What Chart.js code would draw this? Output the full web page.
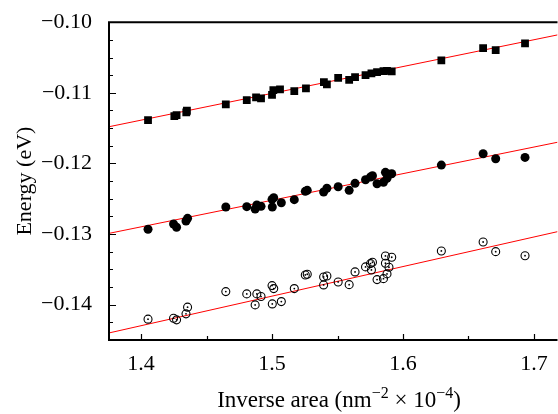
<!DOCTYPE html>
<html>
<head>
<meta charset="utf-8">
<script src="https://cdn.jsdelivr.net/npm/chart.js@4/dist/chart.umd.min.js"></script>
<style>
  html, body { margin: 0; background: #fff; overflow: hidden; }
  #wrap { width: 563px; height: 414px; position: relative; }
</style>
</head>
<body>
<div id="wrap"><canvas id="myChart"></canvas></div>
<script>
// data
const xSquare = [1.4053, 1.4254, 1.4271, 1.4345, 1.4350, 1.4647, 1.4807, 1.4878, 1.4916, 1.5000, 1.5010, 1.5061, 1.5170, 1.5259, 1.5396, 1.5419, 1.5505, 1.5589, 1.5634, 1.5714, 1.5759, 1.5802, 1.5851, 1.5878, 1.5914, 1.6293, 1.6612, 1.6708, 1.6932];
const ySquare = [-0.11386, -0.11330, -0.11315, -0.11277, -0.11254, -0.11164, -0.11103, -0.11065, -0.11079, -0.11028, -0.10962, -0.10952, -0.10976, -0.10938, -0.10849, -0.10881, -0.10788, -0.10816, -0.10778, -0.10750, -0.10726, -0.10707, -0.10693, -0.10689, -0.10697, -0.10542, -0.10368, -0.10396, -0.10300];

const xFilled = [1.4053, 1.4248, 1.4271, 1.4343, 1.4355, 1.4647, 1.4807, 1.4871, 1.4884, 1.4916, 1.5000, 1.5013, 1.5002, 1.5071, 1.5170, 1.5254, 1.5269, 1.5394, 1.5419, 1.5505, 1.5589, 1.5634, 1.5714, 1.5752, 1.5767, 1.5802, 1.5851, 1.5866, 1.5878, 1.5893, 1.5914, 1.6293, 1.6612, 1.6708, 1.6932];
const yFilled = [-0.12932, -0.12857, -0.12904, -0.12815, -0.12777, -0.12617, -0.12612, -0.12645, -0.12588, -0.12607, -0.12508, -0.12485, -0.12617, -0.12556, -0.12513, -0.12395, -0.12381, -0.12405, -0.12352, -0.12330, -0.12381, -0.12282, -0.12231, -0.12192, -0.12174, -0.12287, -0.12267, -0.12126, -0.12211, -0.12154, -0.12146, -0.12023, -0.11863, -0.11934, -0.11915];

const xOpen = [1.4053, 1.4248, 1.4271, 1.4343, 1.4355, 1.4647, 1.4807, 1.4871, 1.4884, 1.4916, 1.5000, 1.5013, 1.5002, 1.5071, 1.5170, 1.5254, 1.5269, 1.5394, 1.5394, 1.5419, 1.5505, 1.5589, 1.5634, 1.5714, 1.5752, 1.5767, 1.5759, 1.5802, 1.5851, 1.5866, 1.5866, 1.5878, 1.5893, 1.5914, 1.6293, 1.6612, 1.6708, 1.6932];
const yOpen = [-0.14205, -0.14191, -0.14215, -0.14130, -0.14035, -0.13815, -0.13847, -0.14003, -0.13847, -0.13885, -0.13730, -0.13772, -0.13989, -0.13956, -0.13772, -0.13579, -0.13569, -0.13607, -0.13720, -0.13593, -0.13678, -0.13716, -0.13536, -0.13465, -0.13419, -0.13399, -0.13508, -0.13645, -0.13631, -0.13310, -0.13413, -0.13564, -0.13470, -0.13328, -0.13239, -0.13112, -0.13249, -0.13306];

// fitted lines, end points at the axis edges
const fitX = [1.3755, 1.718];
const fitTop = [-0.1148, -0.1018];
const fitMid = [-0.1299, -0.1170];
const fitLow = [-0.1440, -0.12966];

const xTicks = [1.4, 1.5, 1.6, 1.7];
const xMinor = [1.45, 1.55, 1.65];
const yTicks = [-0.14, -0.13, -0.12, -0.11, -0.10];
const yMinor = [-0.1425, -0.1375, -0.135, -0.1325, -0.1275, -0.125, -0.1225, -0.1175, -0.115, -0.1125, -0.1075, -0.105, -0.1025];

const FONT = "'Liberation Serif', 'Times New Roman', serif";

function pts(xs, ys) {
  return xs.map(function (x, i) { return { x: x, y: ys[i] }; });
}

// small dot in the middle of the open circles
const dotPlugin = {
  id: "dots",
  afterDatasetsDraw: function (chart) {
    const c = chart.ctx;
    const meta = chart.getDatasetMeta(5);
    c.save();
    c.fillStyle = "#000";
    meta.data.forEach(function (el) {
      c.beginPath();
      c.arc(el.x, el.y, 0.9, 0, Math.PI * 2);
      c.fill();
    });
    c.restore();
  }
};

const framePlugin = {
  id: "frame",
  afterDraw: function (chart) {
    const c = chart.ctx;
    const a = chart.chartArea;
    const xs = chart.scales.x;
    const ys = chart.scales.y;
    c.save();
    c.strokeStyle = "#000";
    c.lineWidth = 2;
    c.beginPath();
    c.moveTo(a.left, a.top);
    c.lineTo(a.right, a.top);
    c.moveTo(a.left, a.top - 1);
    c.lineTo(a.left, a.bottom + 1);
    c.moveTo(a.left, a.bottom);
    c.lineTo(a.right, a.bottom);
    c.stroke();

    c.lineWidth = 1.2;
    c.beginPath();
    xTicks.forEach(function (v) {
      const px = Math.round(xs.getPixelForValue(v)) + 0.5;
      c.moveTo(px, a.bottom);
      c.lineTo(px, a.bottom - 6);
    });
    xMinor.forEach(function (v) {
      const px = Math.round(xs.getPixelForValue(v)) + 0.5;
      c.moveTo(px, a.bottom);
      c.lineTo(px, a.bottom - 4);
    });
    yTicks.forEach(function (v) {
      const py = Math.round(ys.getPixelForValue(v)) + 0.5;
      c.moveTo(a.left, py);
      c.lineTo(a.left + 7, py);
    });
    yMinor.forEach(function (v) {
      const py = Math.round(ys.getPixelForValue(v)) + 0.5;
      c.moveTo(a.left, py);
      c.lineTo(a.left + 4, py);
    });
    c.stroke();

    // x axis title with superscripts
    const big = "23px " + FONT;
    const small = "16px " + FONT;
    const parts = [
      { t: "Inverse area (nm", f: big, dy: 0 },
      { t: "\u22122", f: small, dy: -9 },
      { t: " \u00d7 10", f: big, dy: 0 },
      { t: "\u22124", f: small, dy: -9 },
      { t: ")", f: big, dy: 0 }
    ];
    let w = 0;
    parts.forEach(function (p) { c.font = p.f; w += c.measureText(p.t).width; });
    let x = a.left + 230 - w / 2;
    const base = 407;
    c.fillStyle = "#000";
    c.textBaseline = "alphabetic";
    c.textAlign = "left";
    parts.forEach(function (p) {
      c.font = p.f;
      c.fillText(p.t, x, base + p.dy);
      x += c.measureText(p.t).width;
    });
    c.restore();
  }
};

new Chart(document.getElementById("myChart"), {
  type: "scatter",
  data: {
    datasets: [
      { data: pts(fitX, fitTop), showLine: true, borderColor: "rgb(255,0,0)", borderWidth: 1, pointRadius: 0, order: 10 },
      { data: pts(fitX, fitMid), showLine: true, borderColor: "rgb(255,0,0)", borderWidth: 1, pointRadius: 0, order: 10 },
      { data: pts(fitX, fitLow), showLine: true, borderColor: "rgb(255,0,0)", borderWidth: 1, pointRadius: 0, order: 10 },
      { data: pts(xSquare, ySquare), pointStyle: "rect", pointRadius: 5.5, backgroundColor: "#000", borderColor: "#000", borderWidth: 0, order: 1 },
      { data: pts(xFilled, yFilled), pointStyle: "circle", pointRadius: 4.5, backgroundColor: "#000", borderColor: "#000", borderWidth: 0, order: 1 },
      { data: pts(xOpen, yOpen), pointStyle: "circle", pointRadius: 4, backgroundColor: "rgba(255,255,255,0)", borderColor: "#000", borderWidth: 1.1, order: 1 }
    ]
  },
  options: {
    responsive: true,
    maintainAspectRatio: false,
    devicePixelRatio: 1,
    animation: false,
    layout: { padding: { top: 22, right: 0, left: 0, bottom: 0 } },
    plugins: {
      legend: { display: false },
      tooltip: { enabled: false }
    },
    scales: {
      x: {
        type: "linear",
        min: 1.3755,
        max: 1.718,
        grid: { display: false },
        border: { display: false },
        afterBuildTicks: function (s) { s.ticks = xTicks.map(function (v) { return { value: v }; }); },
        afterFit: function (s) { s.height = 74; s.paddingLeft = 0; s.paddingRight = 0; },
        ticks: {
          padding: 3,
          color: "#000",
          font: { family: FONT, size: 22 },
          callback: function (v) { return v.toFixed(1); }
        }
      },
      y: {
        type: "linear",
        min: -0.145,
        max: -0.10,
        grid: { display: false },
        border: { display: false },
        afterBuildTicks: function (s) { s.ticks = yTicks.map(function (v) { return { value: v }; }); },
        afterFit: function (s) { s.width = 109; },
        ticks: {
          padding: 9,
          color: "#000",
          font: { family: FONT, size: 22 },
          callback: function (v) { return "\u2212" + Math.abs(v).toFixed(2); }
        },
        title: {
          display: true,
          text: "Energy (eV)",
          color: "#000",
          font: { family: FONT, size: 22 },
          padding: { top: 12, bottom: 0 }
        }
      }
    }
  },
  plugins: [framePlugin, dotPlugin]
});
</script>
</body>
</html>
